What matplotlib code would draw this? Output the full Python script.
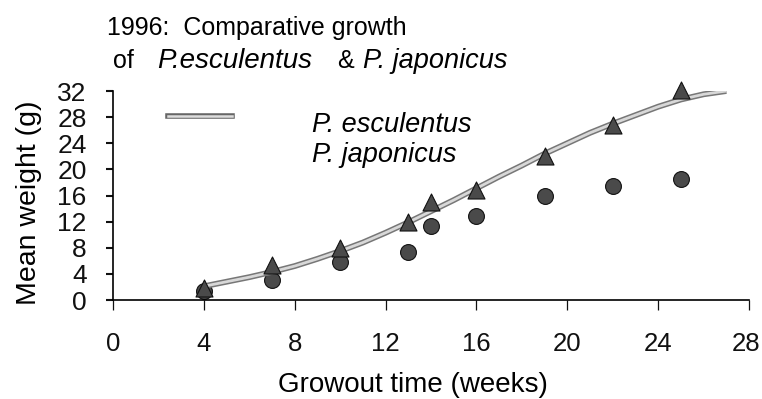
import matplotlib
matplotlib.use("Agg")
import matplotlib.pyplot as plt
from matplotlib.lines import Line2D
from matplotlib.transforms import ScaledTranslation

plt.rcParams['font.family'] = ['Liberation Sans', 'DejaVu Sans']

# sampling weeks and mean weights (g)
weeks = [4, 7, 10, 13, 14, 16, 19, 22, 25]
esculentus = [1.8, 5.4, 7.9, 11.9, 15.0, 16.9, 22.0, 26.8, 32.1]
japonicus = [1.4, 3.0, 5.8, 7.3, 11.3, 12.9, 15.9, 17.5, 18.5]

# fitted growth curve
fit_weeks = [4, 5, 6, 7, 8, 9, 10, 11, 12, 13, 14, 15, 16, 17, 18, 19, 20, 21, 22, 23, 24, 25, 26, 27]
fit_weight = [2.1, 2.8, 3.5, 4.3, 5.2, 6.3, 7.5, 8.8, 10.3, 11.9, 13.6, 15.3, 17.1, 18.9, 20.6, 22.4,
              24.0, 25.6, 27.0, 28.3, 29.6, 30.7, 31.5, 32.0]

x_ticks = [0, 4, 8, 12, 16, 20, 24, 28]
y_ticks = [0, 4, 8, 12, 16, 20, 24, 28, 32]

fig = plt.figure(figsize=(7.62, 3.99), dpi=100)
ax = fig.add_axes([0.1483, 0.2481, 0.8347, 0.5238])

ax.plot(fit_weeks, fit_weight, color='#777777', lw=4.2, solid_capstyle='butt', zorder=2)
ax.plot(fit_weeks, fit_weight, color='#d8d8d8', lw=2.0, solid_capstyle='butt', zorder=2)

ax.scatter(weeks, esculentus, marker='^', s=150, color='#4a4a4a', edgecolor='#111111',
           linewidth=0.8, zorder=3, clip_on=False)
ax.scatter(weeks, japonicus, marker='o', s=130, color='#4a4a4a', edgecolor='#111111',
           linewidth=0.8, zorder=1, clip_on=False)

ax.set_xlim(0, 28)
ax.set_ylim(0, 32)
ax.set_xticks(x_ticks)
ax.set_yticks(y_ticks)
ax.tick_params(axis='both', colors='#111111')
ax.tick_params(axis='x', labelsize=18.5, direction='out', length=7, width=0.9, pad=16)
ax.tick_params(axis='y', labelsize=19, direction='out', length=5, width=1.5, pad=14)
for side in ['top', 'right']:
    ax.spines[side].set_visible(False)
ax.spines['left'].set_linewidth(1.2)
ax.spines['bottom'].set_linewidth(1.2)

# nudge the last x label so it stays on the canvas
last = ax.get_xticklabels()[-1]
last.set_transform(last.get_transform() + ScaledTranslation(-3 / 100, 0, fig.dpi_scale_trans))

ax.set_xlabel('Growout time (weeks)', fontsize=20)
ax.xaxis.set_label_coords(0.472, -0.345)
ax.set_ylabel('Mean weight (g)', fontsize=20.5)
ax.yaxis.set_label_coords(-0.112, 0.464)

# legend drawn by hand: double grey line for the first entry, nothing for the second
fig.add_artist(Line2D([168 / 762, 232 / 762], [1 - 116 / 399, 1 - 116 / 399], color='#666666', lw=4))
fig.add_artist(Line2D([168 / 762, 232 / 762], [1 - 116 / 399, 1 - 116 / 399], color='#dddddd', lw=1.8))
fig.text(312 / 762, 1 - 132 / 399, 'P. esculentus', fontsize=19.5, style='italic', va='baseline')
fig.text(312 / 762, 1 - 162 / 399, 'P. japonicus', fontsize=19.5, style='italic', va='baseline')

# two-line title with italic species names
fig.text(107 / 762, 1 - 35 / 399, '1996:  Comparative growth', fontsize=18, va='baseline')
fig.text(113 / 762, 1 - 68 / 399, 'of', fontsize=18, va='baseline')
fig.text(157 / 762, 1 - 68 / 399, 'P.esculentus', fontsize=20, style='italic', va='baseline')
fig.text(337 / 762, 1 - 68 / 399, '&', fontsize=18, va='baseline')
fig.text(363 / 762, 1 - 68 / 399, 'P. japonicus', fontsize=19.5, style='italic', va='baseline')

fig.savefig('out.png', dpi=100)
